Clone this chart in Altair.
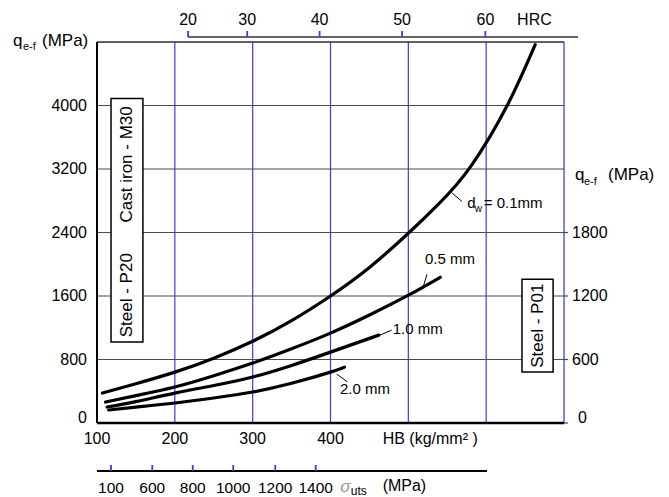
import altair as alt
import pandas as pd

FONT = "Liberation Sans"
BLUE = "#3c3ce6"
GRID = "#4a4a4a"

# ---------------- data ----------------
hb_grid = [200, 300, 400, 500, 600, 700]      # vertical (blue) grid lines, HB
hb_labels = [100, 200, 300, 400]              # HB tick labels
q_left_ticks = [0, 800, 1600, 2400, 3200, 4000]
q_right_ticks = [0, 600, 1200, 1800]          # right-hand q_e-f scale (0..3600 over full height)
RIGHT_TO_LEFT = 4800 / 3600

hrc_values = [20, 30, 40, 50, 60]
hrc_hb = [217, 293, 386, 492, 599]          # HB equivalent of each HRC tick

sigma_values = [100, 600, 800, 1000, 1200, 1400]
sigma_hb = [118, 171, 223, 275, 329, 381]   # HB equivalent of each sigma_uts tick

hb_01 = [107, 150, 200, 250, 300, 350, 400, 450, 500, 540, 580, 627, 663]
q_01 = [377, 495, 641, 817, 1030, 1290, 1600, 1960, 2390, 2770, 3230, 4000, 4767]

hb_05 = [111, 150, 200, 250, 300, 350, 400, 450, 500, 541]
q_05 = [264, 345, 453, 595, 755, 935, 1132, 1360, 1610, 1836]

hb_10 = [113, 150, 200, 250, 300, 350, 400, 462]
q_10 = [201, 270, 377, 472, 579, 725, 893, 1107]

hb_20 = [115, 150, 200, 250, 300, 350, 400, 418]
q_20 = [164, 200, 252, 315, 390, 500, 641, 704]

rows = []
for name, hbs, qs in [("0.1", hb_01, q_01), ("0.5", hb_05, q_05),
                      ("1.0", hb_10, q_10), ("2.0", hb_20, q_20)]:
    for h, q in zip(hbs, qs):
        rows.append({"series": name, "hb": h, "q": q})
df_curves = pd.DataFrame(rows)
df_hrc = pd.DataFrame({"hrc": hrc_values, "hb": hrc_hb})
df_sigma = pd.DataFrame({"sigma": sigma_values, "hb": sigma_hb})
df_right = pd.DataFrame({"v": q_right_ticks})
df_left = pd.DataFrame({"q": q_left_ticks})
df_hbgrid = pd.DataFrame({"hb": hb_grid})
df_hblab = pd.DataFrame({"hb": hb_labels})
dummy = pd.DataFrame({"a": [0]})

xs = alt.Scale(domain=[100, 700], nice=False, zero=False)
ys = alt.Scale(domain=[0, 4800], nice=False, zero=False)


def dx(v):
    return alt.X(datum=v, type="quantitative", axis=None, scale=xs)


def dy(v):
    return alt.Y(datum=v, type="quantitative", axis=None, scale=ys)


def dx2(v):
    return alt.X2(datum=v)


def dy2(v):
    return alt.Y2(datum=v)


def fx(f):
    return alt.X(f, type="quantitative", axis=None, scale=xs)


def fy(f):
    return alt.Y(f, type="quantitative", axis=None, scale=ys)


def ptext(s, x, y, size=16, **kw):
    return alt.Chart(dummy).mark_text(text=s, x=x, y=y, fontSize=size, font=FONT,
                                      color=kw.pop("color", "black"),
                                      align=kw.pop("align", "left"),
                                      baseline=kw.pop("baseline", "alphabetic"), **kw)


def dtext(s, x, y, size=15, **kw):
    return alt.Chart(dummy).mark_text(text=s, fontSize=size, font=FONT,
                                      color=kw.pop("color", "black"),
                                      align=kw.pop("align", "left"),
                                      baseline=kw.pop("baseline", "middle"), **kw
                                      ).encode(x=dx(x), y=dy(y))


def seg(x1, y1, x2, y2, w=1.0):
    return alt.Chart(dummy).mark_rule(color="black", strokeWidth=w).encode(
        x=dx(x1), y=dy(y1), x2=dx2(x2), y2=dy2(y2))


# ---------------- grid & frame ----------------
vgrid = alt.Chart(df_hbgrid).mark_rule(color=BLUE, strokeWidth=1.2).encode(
    x=fx("hb"), y=dy(0), y2=dy2(4800))
hgrid = alt.Chart(df_left).transform_filter("datum.q > 0").mark_rule(
    color=GRID, strokeWidth=1.2).encode(y=fy("q"), x=dx(100), x2=dx2(700))
top_frame = alt.Chart(dummy).mark_rule(color="#333", strokeWidth=1.5).encode(
    x=dx(100), x2=dx2(700), y=dy(4800))
left_line = alt.Chart(dummy).mark_rule(color="black", strokeWidth=2).encode(
    x=dx(100), y=dy(0), y2=dy2(4800))
bottom_line = alt.Chart(dummy).mark_rule(color="black", strokeWidth=2.5).encode(
    y=dy(0), x=dx(100), x2=dx2(700))

# left tick labels
left_labels = alt.Chart(df_left).transform_filter("datum.q > 0").mark_text(
    fontSize=16, font=FONT, color="black", align="right", baseline="middle").encode(
    x=alt.value(-10), y=fy("q"), text="q:Q")
left_zero = alt.Chart(df_left).transform_filter("datum.q == 0").mark_text(
    fontSize=16, font=FONT, color="black", align="right", baseline="alphabetic").encode(
    x=alt.value(-10), y=fy("q"), text="q:Q")

# HB tick labels
hb_lab = alt.Chart(df_hblab).mark_text(
    fontSize=16, font=FONT, color="black", align="center", baseline="middle").encode(
    x=fx("hb"), y=alt.value(397), text="hb:Q")

# ---------------- curves ----------------
curves = alt.Chart(df_curves).mark_line(
    color="black", strokeWidth=3.2, interpolate="natural", strokeCap="round"
).encode(x=fx("hb"), y=fy("q"), detail="series:N")

# right-hand q_e-f scale (ticks + labels), mapped onto the left scale
right_base = alt.Chart(df_right).transform_calculate(
    qleft=f"datum.v * {RIGHT_TO_LEFT}")
right_ticks = right_base.mark_rule(color=GRID, strokeWidth=1.2).encode(
    x=alt.value(467), x2=alt.value(471), y=fy("qleft"))
right_labels = right_base.transform_filter("datum.v > 0").mark_text(
    fontSize=16, font=FONT, color="black", align="left", baseline="middle").encode(
    x=alt.value(475), y=fy("qleft"), text="v:Q")
right_zero = right_base.transform_filter("datum.v == 0").mark_text(
    fontSize=16, font=FONT, color="black", align="left", baseline="alphabetic").encode(
    x=alt.value(481), y=fy("qleft"), text="v:Q")

# HRC top scale
hrc_line = alt.Chart(dummy).mark_rule(color="#333", strokeWidth=1.5).encode(
    x=dx(hrc_hb[0]), x2=dx2(718), y=alt.value(-5))
hrc_ticks = alt.Chart(df_hrc).mark_rule(color=BLUE, strokeWidth=1.8).encode(
    x=fx("hb"), y=alt.value(-11), y2=alt.value(-5))
hrc_labels = alt.Chart(df_hrc).mark_text(fontSize=16, font=FONT, color="black",
                                        baseline="middle").encode(
    x=fx("hb"), y=alt.value(-22), text="hrc:Q")
hrc_title = alt.Chart(dummy).mark_text(text="HRC", fontSize=16, font=FONT,
                                       color="black", baseline="middle").encode(
    x=dx(662), y=alt.value(-22))

# sigma_uts bottom scale
sig_line = alt.Chart(dummy).mark_rule(color="black", strokeWidth=1.8).encode(
    x=dx(100), x2=dx2(601), y=alt.value(429))
sig_ticks = alt.Chart(df_sigma).mark_rule(color=BLUE, strokeWidth=1.8).encode(
    x=fx("hb"), y=alt.value(423), y2=alt.value(429))
sig_labels = alt.Chart(df_sigma).mark_text(fontSize=15.5, font=FONT, color="black",
                                          baseline="middle").encode(
    x=fx("hb"), y=alt.value(446), text="sigma:Q")
sig_sym = alt.Chart(dummy).mark_text(text="σ", fontSize=17, font=FONT, color="#999",
                                     fontStyle="italic", baseline="middle",
                                     align="center").encode(
    x=dx(419), y=alt.value(445))
sig_sub = alt.Chart(dummy).mark_text(text="uts", fontSize=12, font=FONT, color="black",
                                     baseline="middle", align="left").encode(
    x=dx(426), y=alt.value(449))
sig_unit = alt.Chart(dummy).mark_text(text="(MPa)", fontSize=16, font=FONT, color="black",
                                      baseline="middle", align="left").encode(
    x=dx(467), y=alt.value(444))

# HB title
hb_title = alt.Chart(dummy).mark_text(text="HB (kg/mm² )", fontSize=16, font=FONT,
                                      color="black", baseline="middle", align="left").encode(
    x=dx(467), y=alt.value(397))

# boxes
box1 = alt.Chart(dummy).mark_rect(fill="white", stroke="black", strokeWidth=1.5).encode(
    x=dx(118), x2=dx2(159), y=dy(1019), y2=dy2(4088))
box2 = alt.Chart(dummy).mark_rect(fill="white", stroke="black", strokeWidth=1.5).encode(
    x=dx(646), x2=dx2(686), y=dy(641), y2=dy2(1811))
t_p20 = dtext("Steel - P20", 138.5, 1610, size=17, angle=270, align="center")
t_m30 = dtext("Cast iron - M30", 138.5, 3258, size=17, angle=270, align="center")
t_p01 = dtext("Steel - P01", 666, 1226, size=17, angle=270, align="center")

# curve labels
lab_d = dtext("d", 575.8, 2767)
lab_w = dtext("w", 585.3, 2690, size=10)
lab_01 = dtext("= 0.1mm", 597, 2767)
lead_01 = seg(556, 2900, 569, 2790)
lab_05 = dtext("0.5 mm", 521.4, 2063)
lead_05 = seg(519, 1711, 524, 1874)
lab_10 = dtext("1.0 mm", 480, 1179)
lead_10 = seg(463.6, 1107, 478.6, 1170)
lab_20 = dtext("2.0 mm", 412.2, 430)
lead_20 = seg(408, 616, 421.6, 519)

# axis titles (q_e-f (MPa)) left & right
lt_q = ptext("q", -84, 3.5, size=17)
lt_sub = ptext("e-f", -74, 8, size=11)
lt_unit = ptext("(MPa)", -55, 3.5, size=17)
rt_q = ptext("q", 478, 138, size=17)
rt_sub = ptext("e-f", 487, 142.5, size=11)
rt_unit = ptext("(MPa)", 511, 138, size=17)

chart = alt.layer(
    vgrid, hgrid, top_frame, left_line, bottom_line,
    left_labels, left_zero, hb_lab,
    curves, right_ticks, right_labels, right_zero,
    hrc_line, hrc_ticks, hrc_labels, hrc_title,
    sig_line, sig_ticks, sig_labels, sig_sym, sig_sub, sig_unit,
    hb_title,
    box1, box2, t_p20, t_m30, t_p01,
    lead_01, lead_05, lead_10, lead_20,
    lab_d, lab_w, lab_01, lab_05, lab_10, lab_20,
    lt_q, lt_sub, lt_unit, rt_q, rt_sub, rt_unit,
).properties(
    width=467, height=381,
    padding={"left": 97, "top": 42, "right": 105, "bottom": 74},
    autosize="none",
).configure_view(stroke=None).configure(background="white")

chart.save("out.html", embed_options={"renderer": "svg", "actions": False})
